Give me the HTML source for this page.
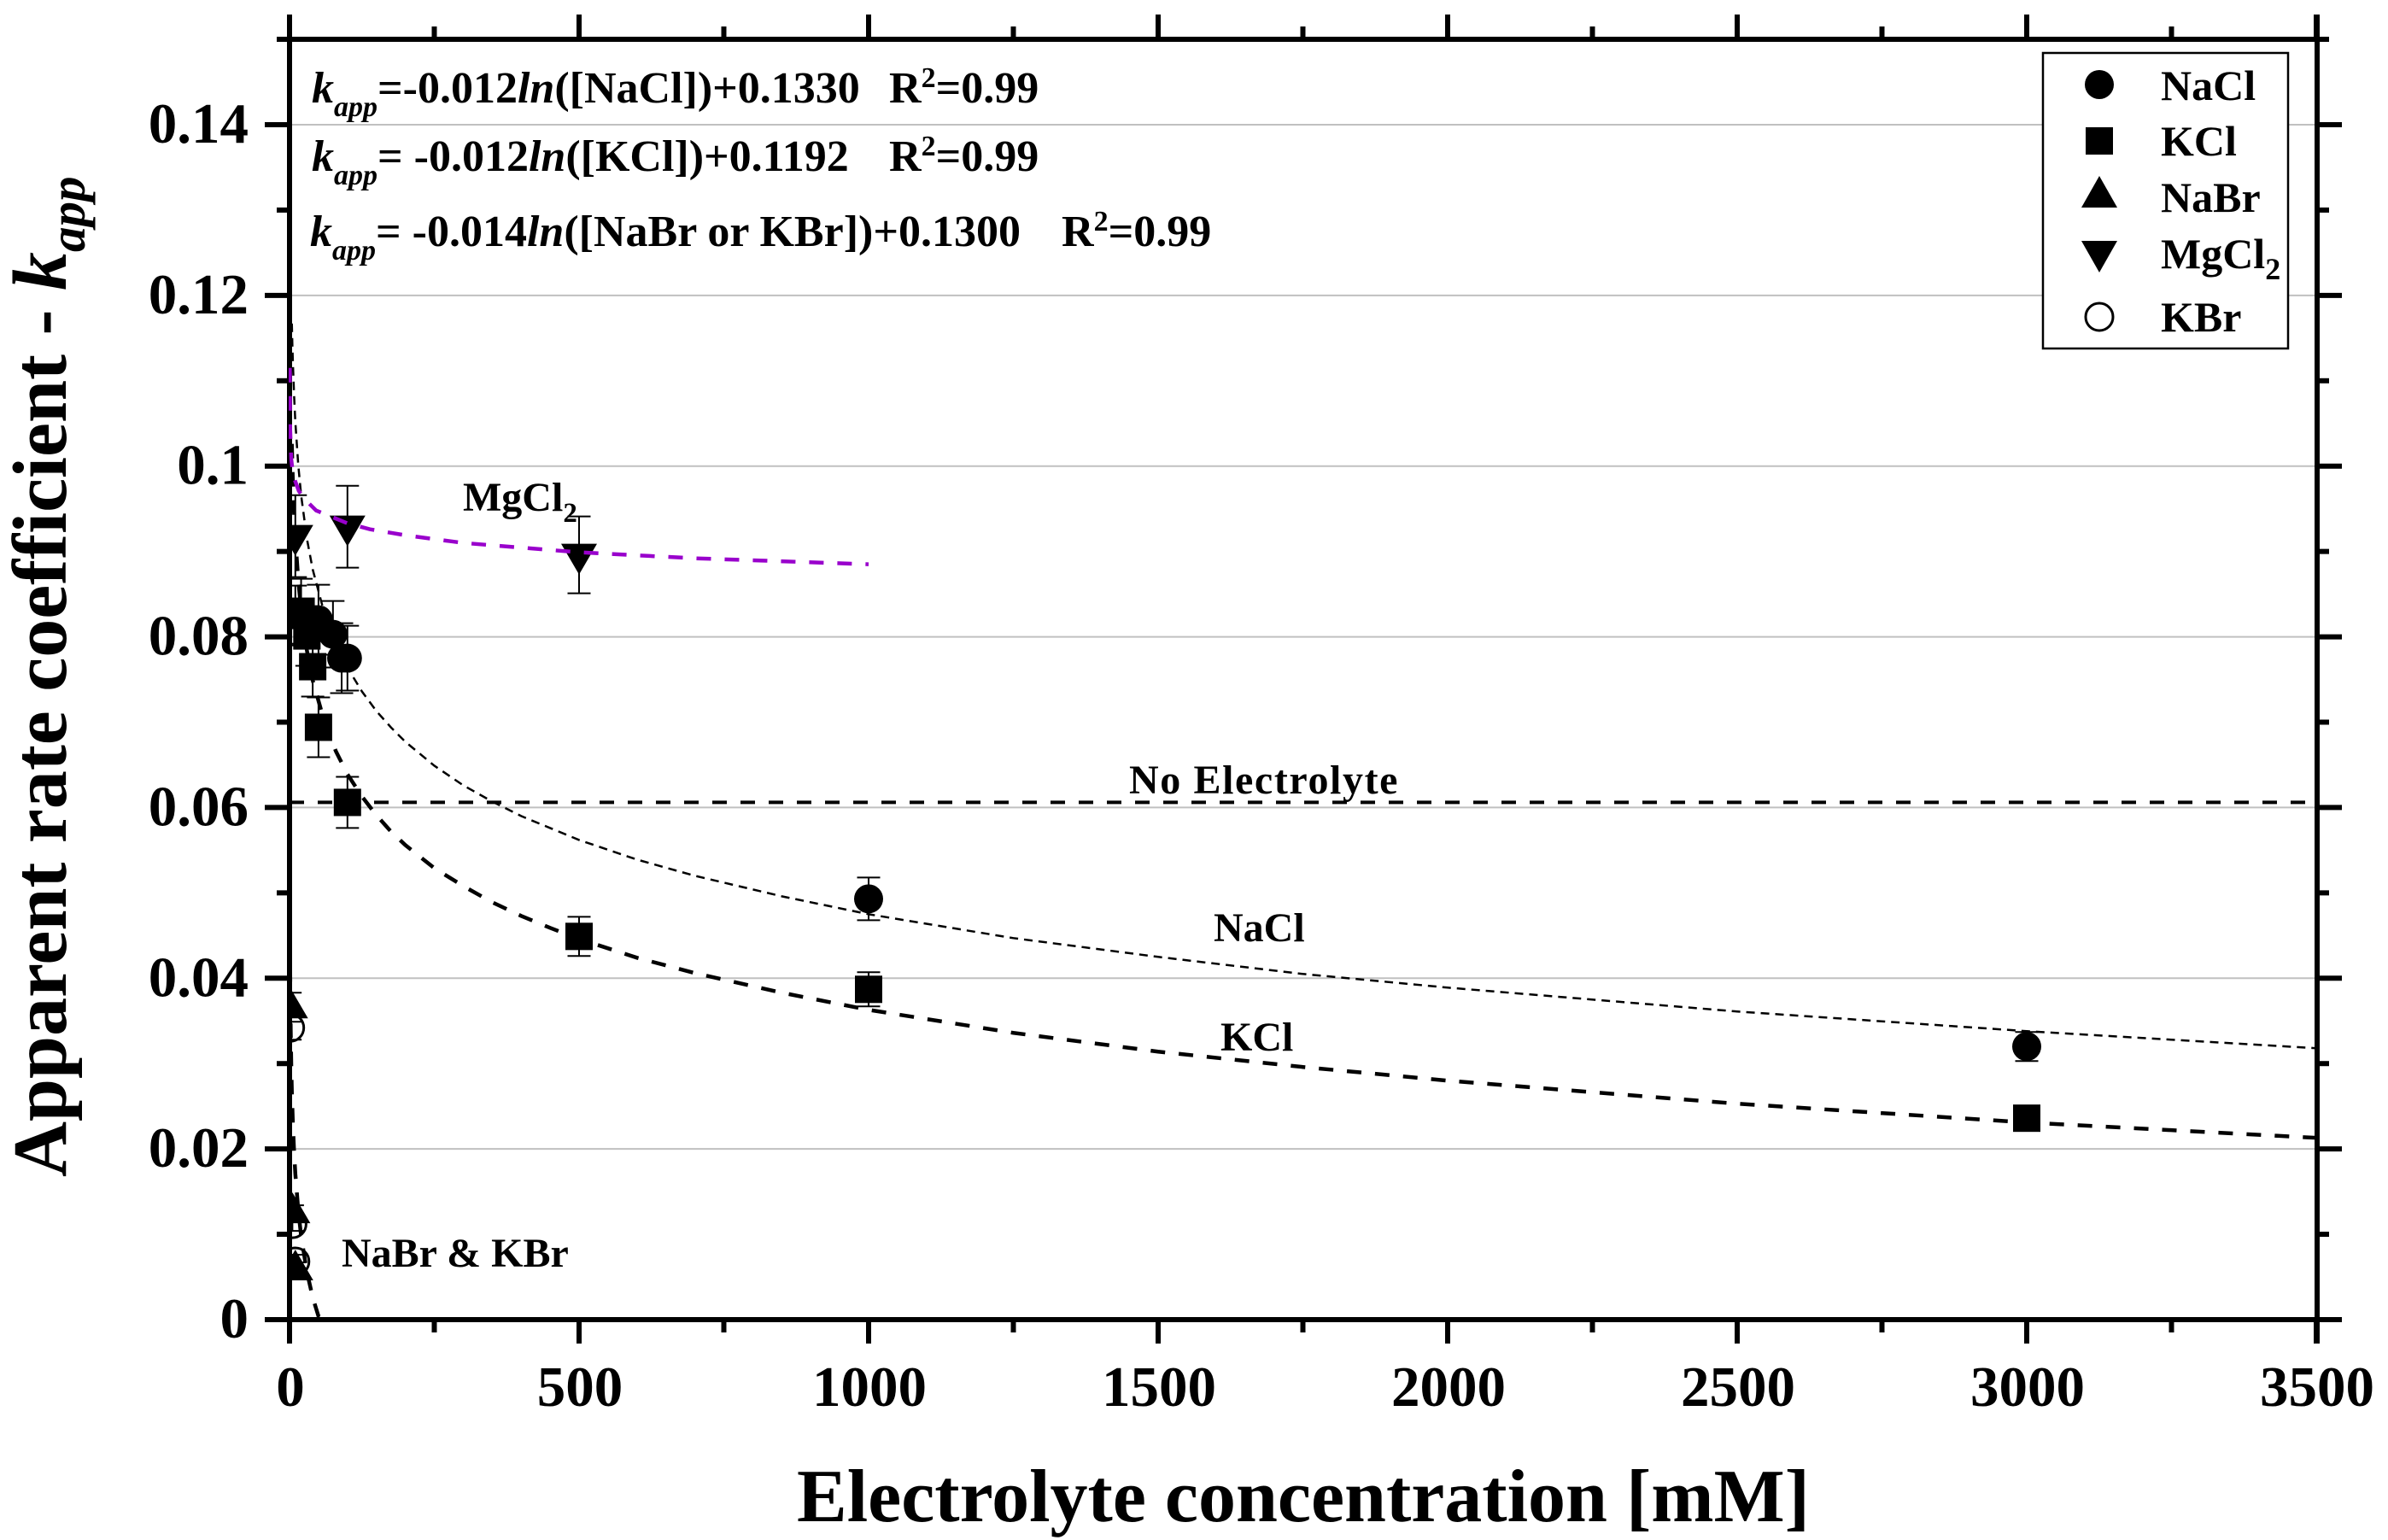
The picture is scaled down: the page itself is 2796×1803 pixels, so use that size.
<!DOCTYPE html>
<html lang="en">
<head>
<meta charset="utf-8">
<title>Apparent rate coefficient vs electrolyte concentration</title>
<style>
html,body{margin:0;padding:0;background:#fff;}
svg{display:block;}
text{font-family:"Liberation Serif",serif;font-weight:bold;fill:#000;}
.it{font-style:italic;}
</style>
</head>
<body>
<svg id="chart" xmlns="http://www.w3.org/2000/svg" width="2796" height="1803" viewBox="0 0 2796 1803">
  <defs>
    <clipPath id="plot-clip"><rect x="338" y="46" width="2378" height="1499"/></clipPath>
  </defs>
  <rect x="0" y="0" width="2796" height="1803" fill="#fff"/>
  <g id="grid"></g>
  <g id="axes"></g>
  <g id="marks" clip-path="url(#plot-clip)"></g>
  <g id="fits" clip-path="url(#plot-clip)"></g>
  <g id="tick-labels"></g>

  <text x="1526" y="1781" text-anchor="middle" font-size="88">Electrolyte concentration [mM]</text>
  <text transform="translate(77,1378) rotate(-90)" font-size="90">Apparent rate coefficient - <tspan class="it">k</tspan><tspan class="it" font-size="59" dy="22">app</tspan></text>

  <text x="365" y="120" font-size="52" xml:space="preserve"><tspan class="it">k</tspan><tspan class="it" font-size="34" dy="16">app</tspan><tspan dy="-16">=-0.012</tspan><tspan class="it">ln</tspan><tspan>([NaCl])+0.1330</tspan><tspan x="1041">R</tspan><tspan font-size="34" dy="-18">2</tspan><tspan dy="18">=0.99</tspan></text>
  <text x="365" y="200" font-size="52" xml:space="preserve"><tspan class="it">k</tspan><tspan class="it" font-size="34" dy="16">app</tspan><tspan dy="-16">= -0.012</tspan><tspan class="it">ln</tspan><tspan>([KCl])+0.1192</tspan><tspan x="1041">R</tspan><tspan font-size="34" dy="-18">2</tspan><tspan dy="18">=0.99</tspan></text>
  <text x="363" y="288" font-size="52" xml:space="preserve"><tspan class="it">k</tspan><tspan class="it" font-size="34" dy="16">app</tspan><tspan dy="-16">= -0.014</tspan><tspan class="it">ln</tspan><tspan>([NaBr or KBr])+0.1300</tspan><tspan x="1243">R</tspan><tspan font-size="34" dy="-18">2</tspan><tspan dy="18">=0.99</tspan></text>

  <text x="542" y="598" font-size="48">MgCl<tspan font-size="33" dy="13">2</tspan></text>
  <text x="1322" y="929" font-size="48" letter-spacing="1.6">No Electrolyte</text>
  <text x="1421" y="1102" font-size="48">NaCl</text>
  <text x="1429" y="1230" font-size="48">KCl</text>
  <text x="400" y="1483" font-size="48">NaBr &amp; KBr</text>

  <g>
    <rect x="2392" y="62" width="287" height="346" fill="#fff" stroke="#000" stroke-width="2.5"/>
    <circle cx="2458" cy="99" r="17" fill="#000"/>
    <rect x="2442" y="149" width="32" height="32" fill="#000"/>
    <polygon points="2458,206 2479,243 2437,243" fill="#000"/>
    <polygon points="2437,282 2479,282 2458,319" fill="#000"/>
    <circle cx="2458" cy="371" r="16" fill="none" stroke="#000" stroke-width="3"/>
    <text x="2530" y="117" font-size="50">NaCl</text>
    <text x="2530" y="182" font-size="50">KCl</text>
    <text x="2530" y="248" font-size="50">NaBr</text>
    <text x="2530" y="314" font-size="50">MgCl<tspan font-size="36" dy="13">2</tspan></text>
    <text x="2530" y="388" font-size="50">KBr</text>
  </g>
</svg>
<script>
var xMajorTicks = [0, 500, 1000, 1500, 2000, 2500, 3000, 3500];
var xMinorTicks = [250, 750, 1250, 1750, 2250, 2750, 3250];
var xTickLabels = ["0", "500", "1000", "1500", "2000", "2500", "3000", "3500"];
var yMajorTicks = [0, 0.02, 0.04, 0.06, 0.08, 0.1, 0.12, 0.14];
var yMinorTicks = [0.01, 0.03, 0.05, 0.07, 0.09, 0.11, 0.13];
var yTickLabels = ["0", "0.02", "0.04", "0.06", "0.08", "0.1", "0.12", "0.14"];

var naclConc = [50, 75, 90, 100, 1000, 3000];
var naclValues = [0.0820, 0.0803, 0.0775, 0.0775, 0.0493, 0.0320];
var naclErrors = [0.0041, 0.0039, 0.0041, 0.0038, 0.0025, 0.0017];

var kclConc = [10, 20, 30, 40, 50, 100, 500, 1000, 3000];
var kclValues = [0.0825, 0.0830, 0.0801, 0.0765, 0.0694, 0.0606, 0.0449, 0.0387, 0.0236];
var kclErrors = [0.0035, 0.0038, 0.0035, 0.0035, 0.0035, 0.0030, 0.0023, 0.0020, 0.0010];

var kbrConc = [1, 5, 10];
var kbrValues = [0.0342, 0.0112, 0.0068];
var kbrErrors = [0.0014, 0.0008, 0.0008];

var nabrConc = [1, 5, 10];
var nabrValues = [0.0366, 0.0126, 0.0059];
var nabrErrors = [0.0017, 0.0008, 0.0008];

var mgcl2Conc = [10, 100, 500];
var mgcl2Values = [0.0918, 0.0929, 0.0896];
var mgcl2Errors = [0.0048, 0.0048, 0.0045];

var noElectrolyteConc = [0, 3500];
var noElectrolyteValues = [0.0606, 0.0606];

var naclFitConc = [4, 5, 6, 8, 10, 15, 20, 30, 40, 60, 80, 100, 125, 150, 175, 200, 250, 300, 350, 400, 450, 500, 600, 700, 850, 1000, 1250, 1500, 1750, 2000, 2500, 3000, 3500];
var naclFitValues = [0.1167, 0.1139, 0.1117, 0.1081, 0.1052, 0.1002, 0.0966, 0.0915, 0.0879, 0.0828, 0.0792, 0.0764, 0.0736, 0.0713, 0.0694, 0.0677, 0.0649, 0.0626, 0.0607, 0.0590, 0.0576, 0.0562, 0.0539, 0.0520, 0.0496, 0.0475, 0.0447, 0.0425, 0.0405, 0.0389, 0.0361, 0.0338, 0.0318];

var kclFitConc = [4, 5, 6, 8, 10, 15, 20, 30, 40, 60, 80, 100, 125, 150, 175, 200, 250, 300, 350, 400, 450, 500, 600, 700, 850, 1000, 1250, 1500, 1750, 2000, 2500, 3000, 3500];
var kclFitValues = [0.1026, 0.0999, 0.0977, 0.0942, 0.0916, 0.0867, 0.0832, 0.0784, 0.0749, 0.0701, 0.0666, 0.0639, 0.0613, 0.0591, 0.0572, 0.0556, 0.0529, 0.0508, 0.0489, 0.0473, 0.0459, 0.0446, 0.0424, 0.0406, 0.0383, 0.0363, 0.0336, 0.0314, 0.0296, 0.0280, 0.0253, 0.0231, 0.0213];

var brFitConc = [1, 2, 3, 4, 6, 8, 10, 15, 20, 30, 40, 50, 53];
var brFitValues = [0.0413, 0.0340, 0.0298, 0.0267, 0.0225, 0.0195, 0.0171, 0.0129, 0.0098, 0.0056, 0.0026, 0.0004, 0.0003];

var mgcl2FitConc = [0.5, 1, 3, 6, 10, 16, 25, 46, 100, 139, 200, 300, 500, 700, 1000];
var mgcl2FitValues = [0.1115, 0.1045, 0.1008, 0.0990, 0.0982, 0.0971, 0.0962, 0.0948, 0.0933, 0.0926, 0.0919, 0.0910, 0.0899, 0.0892, 0.0885];

var SVGNS = 'http://www.w3.org/2000/svg';
var X0 = 339, X1 = 2712, XMAX = 3500;
var Y0 = 1545, Y014 = 146;

function xScale(c) { return X0 + c * (X1 - X0) / XMAX; }
function yScale(v) { return Y0 - v * (Y0 - Y014) / 0.14; }

function mk(tag, attrs, parent) {
  var el = document.createElementNS(SVGNS, tag);
  for (var k in attrs) { el.setAttribute(k, attrs[k]); }
  parent.appendChild(el);
  return el;
}

var gridG = document.getElementById('grid');
var axesG = document.getElementById('axes');
var marksG = document.getElementById('marks');
var fitsG = document.getElementById('fits');
var labelsG = document.getElementById('tick-labels');

yMajorTicks.forEach(function (v) {
  if (v === 0) { return; }
  var g = mk('line', { x1: X0, x2: X1, y1: yScale(v), y2: yScale(v), stroke: '#c0c0c0', 'stroke-width': 2 }, gridG);
  
  
});

function axisLine(x1, y1, x2, y2, name) {
  var l = mk('line', { x1: x1, y1: y1, x2: x2, y2: y2, stroke: '#000', 'stroke-width': 6 }, axesG);
  
  
}
axisLine(X0, 17, X0, 1573, 'left-axis-line');
axisLine(2713, 17, 2713, 1573, 'right-axis-line');
axisLine(324, 46, 2727, 46, 'top-axis-line');
axisLine(310, yScale(0), 2742, yScale(0), 'bottom-axis-line');

xMajorTicks.forEach(function (c) {
  var px = Math.min(xScale(c), 2713);
  axisLine(px, Y0, px, 1573, 'x-major-tick');
  axisLine(px, 46, px, 17, 'top-major-tick');
});
xMinorTicks.forEach(function (c) {
  var px = xScale(c);
  axisLine(px, Y0, px, 1560, 'x-minor-tick');
  axisLine(px, 46, px, 31, 'top-minor-tick');
});
yMajorTicks.forEach(function (v) {
  var py = yScale(v);
  axisLine(310, py, X0, py, 'y-major-tick');
  axisLine(2713, py, 2742, py, 'right-major-tick');
});
yMinorTicks.forEach(function (v) {
  var py = yScale(v);
  axisLine(324, py, X0, py, 'y-minor-tick');
  axisLine(2713, py, 2727, py, 'right-minor-tick');
});

xMajorTicks.forEach(function (c, i) {
  var t = mk('text', { x: xScale(c) + 1, y: 1646, 'text-anchor': 'middle', 'font-size': 67 }, labelsG);
  
  
  t.textContent = xTickLabels[i];
});
yMajorTicks.forEach(function (v, i) {
  var t = mk('text', { x: 291, y: yScale(v) + 21, 'text-anchor': 'end', 'font-size': 67 }, labelsG);
  
  
  t.textContent = yTickLabels[i];
});

function errorBar(parent, c, v, e) {
  var px = xScale(c), top = yScale(v + e), bot = yScale(v - e);
  var p = mk('path', {
    d: 'M' + (px - 13.5) + ' ' + top + 'H' + (px + 13.5) + 'M' + px + ' ' + top + 'V' + bot + 'M' + (px - 13.5) + ' ' + bot + 'H' + (px + 13.5),
    fill: 'none', stroke: '#000', 'stroke-width': 2
  }, parent);
  
  
}

function marker(parent, shape, c, v, name) {
  var px = xScale(c), py = yScale(v), el;
  if (shape === 'circle') {
    el = mk('circle', { cx: px, cy: py, r: 17, fill: '#000' }, parent);
  } else if (shape === 'hollow') {
    el = mk('circle', { cx: px, cy: py, r: 16, fill: 'none', stroke: '#000', 'stroke-width': 3 }, parent);
  } else if (shape === 'square') {
    el = mk('rect', { x: px - 16, y: py - 16, width: 32, height: 32, fill: '#000' }, parent);
  } else if (shape === 'up') {
    el = mk('polygon', { points: px + ',' + (py - 23) + ' ' + (px + 21) + ',' + (py + 13) + ' ' + (px - 21) + ',' + (py + 13), fill: '#000' }, parent);
  } else {
    el = mk('polygon', { points: (px - 21) + ',' + (py - 13) + ' ' + (px + 21) + ',' + (py - 13) + ' ' + px + ',' + (py + 23), fill: '#000' }, parent);
  }
  
  
}

function drawSeries(conc, vals, errs, shape, name) {
  var g = mk('g', {}, marksG);
  
  
  conc.forEach(function (c, i) {
    errorBar(g, c, vals[i], errs[i]);
    marker(g, shape, c, vals[i], 'point-' + name);
  });
}

function drawCurve(conc, vals, color, width, dash, name) {
  var d = conc.map(function (c, i) {
    return (i ? 'L' : 'M') + xScale(c).toFixed(2) + ' ' + yScale(vals[i]).toFixed(2);
  }).join('');
  var p = mk('path', { d: d, fill: 'none', stroke: color, 'stroke-width': width, 'stroke-dasharray': dash }, fitsG);
  
  
}

drawSeries(naclConc, naclValues, naclErrors, 'circle', 'nacl');
drawSeries(kclConc, kclValues, kclErrors, 'square', 'kcl');
drawSeries(kbrConc, kbrValues, kbrErrors, 'hollow', 'kbr');
drawSeries(nabrConc, nabrValues, nabrErrors, 'up', 'nabr');
drawSeries(mgcl2Conc, mgcl2Values, mgcl2Errors, 'down', 'mgcl2');

drawCurve(noElectrolyteConc, noElectrolyteValues, '#000', 4, '17 16', 'no-electrolyte-line');
drawCurve(naclFitConc, naclFitValues, '#000', 2.5, '10 7', 'nacl-fit-curve');
drawCurve(kclFitConc, kclFitValues, '#000', 4.5, '17 16', 'kcl-fit-curve');
drawCurve(brFitConc, brFitValues, '#000', 4.5, '17 16', 'br-fit-curve');
drawCurve(mgcl2FitConc, mgcl2FitValues, '#9900cc', 4.5, '17 16', 'mgcl2-fit-curve');
</script>
</body>
</html>
